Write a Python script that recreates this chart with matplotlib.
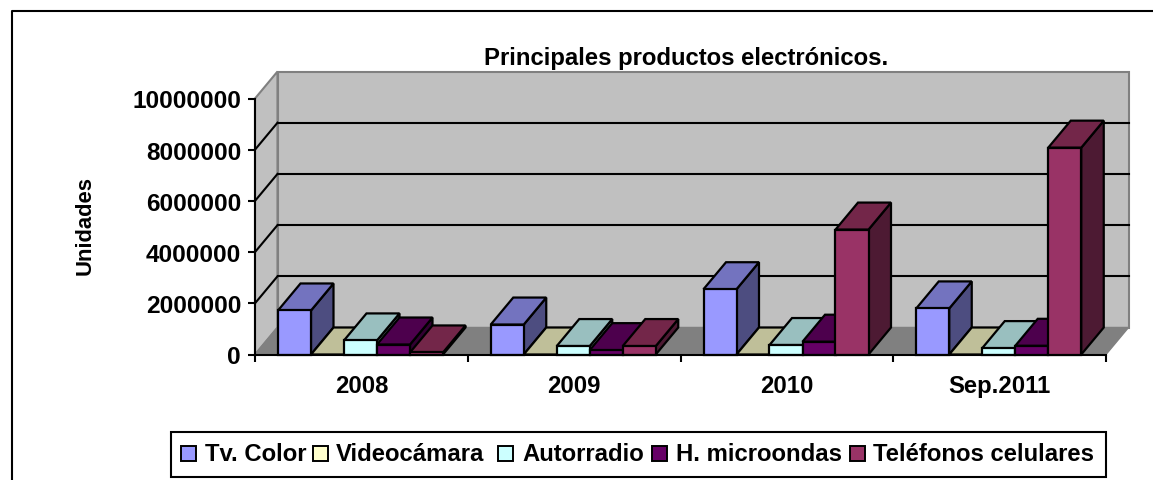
import matplotlib
matplotlib.use('Agg')
import matplotlib.pyplot as plt
from matplotlib.patches import Rectangle

plt.rcParams['font.family'] = ['Liberation Sans', 'DejaVu Sans']

# datos
categorias = ['2008', '2009', '2010', 'Sep.2011']
tv_color = [1720000, 1170000, 2550000, 1800000]
videocamara = [0, 0, 0, 0]
autorradio = [550000, 330000, 370000, 250000]
microondas = [390000, 170000, 500000, 340000]
celulares = [80000, 330000, 4880000, 8080000]
series = ['Tv. Color', 'Videocámara', 'Autorradio', 'H. microondas', 'Teléfonos celulares']
ticks_y = [0, 2000000, 4000000, 6000000, 8000000, 10000000]

valores = [tv_color, videocamara, autorradio, microondas, celulares]
frente = ['#9999FF', '#FFFFCC', '#CCFFFF', '#660066', '#993366']
arriba = ['#7373BF', '#BFBF99', '#99BFBF', '#4D004D', '#732649']
lado = ['#4D4D80', '#808066', '#668080', '#330033', '#4D1A33']

W, H = 1153, 481
fig = plt.figure(figsize=(W / 100, H / 100), dpi=100)
fig.set_facecolor('white')

# el eje coincide con el plano frontal del grafico 3D
ax = fig.add_axes([255 / W, 1 - 355.5 / H, 851 / W, 256 / H])
ax.set_xlim(0, 4)
ax.set_ylim(0, 10000000)
ax.patch.set_visible(False)
for s in ['top', 'right']:
    ax.spines[s].set_visible(False)
for s in ['left', 'bottom']:
    ax.spines[s].set_linewidth(1.5)
    ax.spines[s].set_zorder(20)

# profundidad en unidades de datos
dx = 22.5 * 4 / 851
dy = 27 * 10000000 / 256
ymax = 10000000

# paredes
ax.fill([0, dx, dx, 0], [0, dy, ymax + dy, ymax], facecolor='#C0C0C0', edgecolor='#808080', lw=1.5, clip_on=False, zorder=1)
ax.fill([dx, 4 + dx, 4 + dx, dx], [dy, dy, ymax + dy, ymax + dy], facecolor='#C0C0C0', edgecolor='#808080', lw=1.5, clip_on=False, zorder=1)
ax.fill([0, 4, 4 + dx, dx], [0, 0, dy, dy], facecolor='#808080', edgecolor='#808080', lw=1, clip_on=False, zorder=1)

# lineas de division
for t in ticks_y[1:-1]:
    ax.plot([dx, 4 + dx], [t + dy, t + dy], color='black', lw=1.5, clip_on=False, zorder=2)
    ax.plot([0, dx], [t, t + dy], color='black', lw=1.5, clip_on=False, zorder=2)

# barras
ancho = 33 / 212.75
inicio = 23 / 212.75
z = 3
for c in range(len(categorias)):
    for i in range(len(series)):
        v = valores[i][c]
        x0 = c + inicio + i * ancho
        x1 = x0 + ancho
        kw = dict(edgecolor='black', lw=1.6, joinstyle='miter', clip_on=False, zorder=z)
        ax.fill([x1, x1 + dx, x1 + dx, x1], [0, dy, v + dy, v], facecolor=lado[i], **kw)
        ax.fill([x0, x1, x1 + dx, x0 + dx], [v, v, v + dy, v + dy], facecolor=arriba[i], **kw)
        if v > 0:
            ax.fill([x0, x1, x1, x0], [0, 0, v, v], facecolor=frente[i], **kw)
        z += 1

ax.set_xticks([0, 1, 2, 3, 4])
ax.set_xticklabels([])
ax.set_xticks([0.5, 1.5, 2.5, 3.5], minor=True)
ax.set_xticklabels(categorias, minor=True, fontsize=17.2, fontweight='bold')
ax.tick_params(axis='x', which='major', length=5, width=1.5)
ax.tick_params(axis='x', which='minor', length=0, pad=14)
ax.set_yticks(ticks_y)
ax.set_yticklabels([str(t) for t in ticks_y], fontsize=17.6, fontweight='bold')
ax.tick_params(axis='y', length=5, width=1.5, pad=5)

fig.text(686 / W, 1 - 58 / H, 'Principales productos electrónicos.', fontsize=17.2, fontweight='bold', ha='center', va='center')
fig.text(85 / W, 1 - 225.5 / H, 'Unidades', fontsize=15.8, fontweight='bold', rotation=90, ha='center', va='center')

# marco exterior
fig.add_artist(plt.Line2D([12 / W, 12 / W, 1], [0, 1 - 12 / H, 1 - 12 / H], color='black', lw=1.5))

# leyenda
fig.add_artist(Rectangle((171 / W, 1 - 478 / H), 935 / W, 45 / H, transform=fig.transFigure, facecolor='white', edgecolor='black', lw=1.5))
cajas = [181, 313, 498, 652, 850]
textos = [205, 336, 522, 676, 873]
for i in range(len(series)):
    fig.add_artist(Rectangle((cajas[i] / W, 1 - 462 / H), 15 / W, 15 / H, transform=fig.transFigure, facecolor=frente[i], edgecolor='black', lw=1.4))
    fig.text(textos[i] / W, 1 - 455 / H, series[i], fontsize=17.2, fontweight='bold', ha='left', va='center')

plt.savefig('out.png', dpi=100)
